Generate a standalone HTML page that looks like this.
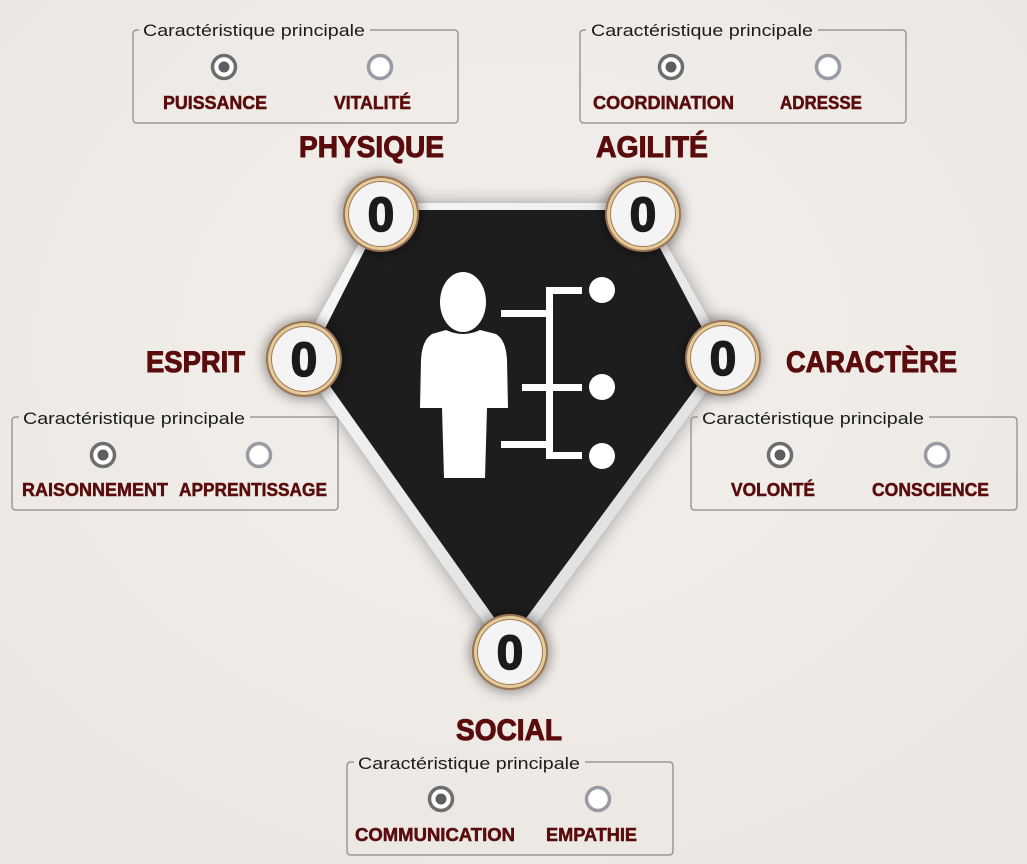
<!DOCTYPE html>
<html><head><meta charset="utf-8"><style>
html,body{margin:0;padding:0;width:1027px;height:864px;overflow:hidden;background:#ece8e4;}
svg{display:block}
text{font-family:"Liberation Sans",sans-serif}
.lg{font-size:17px;fill:#1c1c1c}
.lb{font-size:18px;font-weight:bold;fill:#5a0c0c;stroke:#5a0c0c;stroke-width:0.5}
.tt{font-size:30px;font-weight:bold;fill:#5a0c0c;stroke:#5a0c0c;stroke-width:1}
.num{font-size:48px;font-weight:bold;fill:#1b1b1b;stroke:#1b1b1b;stroke-width:1.5}
</style></head><body>
<svg width="1027" height="864" viewBox="0 0 1027 864">
<defs>
<radialGradient id="bg" cx="50%" cy="40%" r="70%"><stop offset="0" stop-color="#f3f0ed"/><stop offset="1" stop-color="#ebe6e1"/></radialGradient>
<filter id="sh" x="-30%" y="-30%" width="160%" height="160%"><feGaussianBlur stdDeviation="9"/></filter>
<filter id="sh2" x="-50%" y="-50%" width="200%" height="200%"><feGaussianBlur stdDeviation="6"/></filter>
<linearGradient id="wb" x1="0" y1="0" x2="1" y2="1"><stop offset="0" stop-color="#fafafa"/><stop offset="1" stop-color="#d8d8d8"/></linearGradient>
</defs>
<rect width="1027" height="864" fill="url(#bg)"/>

<polygon points="381,203 643,203 731,358 510,660 296,358" fill="#000" opacity="0.35" filter="url(#sh)"/>
<polygon points="381,203 643,203 731,358 510,660 296,358" fill="url(#wb)"/>
<polygon points="385,210 640,210 718,358 510,640 310,358" fill="#1d1d1d"/>

<g fill="#fff">
<ellipse cx="463" cy="302" rx="23" ry="30"/>
<path d="M446,330 Q463,338 480,330 L496,334 Q506,340 507,360 L508,408 L487,408 L485,478 L444,478 L442,408 L420,408 L421,360 Q422,340 432,334 Z"/>
<rect x="501" y="310" width="48" height="7"/>
<rect x="546" y="287" width="7" height="172"/>
<rect x="546" y="287" width="36" height="7"/>
<circle cx="602" cy="290" r="13"/>
<rect x="522" y="384" width="60" height="7"/>
<circle cx="602" cy="387" r="13"/>
<rect x="501" y="441" width="48" height="7"/>
<rect x="546" y="452" width="36" height="7"/>
<circle cx="602" cy="456" r="13"/>
</g>

<g>
<g transform="translate(381,214)"><circle r="40" fill="#000" opacity="0.4" filter="url(#sh2)"/><circle r="38" fill="#9b7456"/><circle r="36" fill="#e4cc98"/><circle r="33" fill="#a07a5c"/><circle r="32" fill="#f4f4f4"/><text class="num" text-anchor="middle" y="17">0</text></g>
<g transform="translate(643,214)"><circle r="40" fill="#000" opacity="0.4" filter="url(#sh2)"/><circle r="38" fill="#9b7456"/><circle r="36" fill="#e4cc98"/><circle r="33" fill="#a07a5c"/><circle r="32" fill="#f4f4f4"/><text class="num" text-anchor="middle" y="17">0</text></g>
<g transform="translate(304,359)"><circle r="40" fill="#000" opacity="0.4" filter="url(#sh2)"/><circle r="38" fill="#9b7456"/><circle r="36" fill="#e4cc98"/><circle r="33" fill="#a07a5c"/><circle r="32" fill="#f4f4f4"/><text class="num" text-anchor="middle" y="17">0</text></g>
<g transform="translate(723,358)"><circle r="40" fill="#000" opacity="0.4" filter="url(#sh2)"/><circle r="38" fill="#9b7456"/><circle r="36" fill="#e4cc98"/><circle r="33" fill="#a07a5c"/><circle r="32" fill="#f4f4f4"/><text class="num" text-anchor="middle" y="17">0</text></g>
<g transform="translate(510,652)"><circle r="40" fill="#000" opacity="0.4" filter="url(#sh2)"/><circle r="38" fill="#9b7456"/><circle r="36" fill="#e4cc98"/><circle r="33" fill="#a07a5c"/><circle r="32" fill="#f4f4f4"/><text class="num" text-anchor="middle" y="17">0</text></g>
</g>

<text class="tt" x="299" y="157" textLength="145" lengthAdjust="spacingAndGlyphs">PHYSIQUE</text>
<text class="tt" x="596" y="157" textLength="112" lengthAdjust="spacingAndGlyphs">AGILITÉ</text>
<text class="tt" x="146" y="372" textLength="99" lengthAdjust="spacingAndGlyphs">ESPRIT</text>
<text class="tt" x="786" y="372" textLength="171" lengthAdjust="spacingAndGlyphs">CARACTÈRE</text>
<text class="tt" x="456" y="740" textLength="106" lengthAdjust="spacingAndGlyphs">SOCIAL</text>

<g fill="none" stroke="#9a9a9a" stroke-width="1.5">
<path d="M139,30 L137,30 Q133,30 133,34 L133,119 Q133,123 137,123 L454,123 Q458,123 458,119 L458,34 Q458,30 454,30 L370,30"/>
<path d="M586,30 L584,30 Q580,30 580,34 L580,119 Q580,123 584,123 L902,123 Q906,123 906,119 L906,34 Q906,30 902,30 L818,30"/>
<path d="M19,417 L16,417 Q12,417 12,421 L12,506 Q12,510 16,510 L334,510 Q338,510 338,506 L338,421 Q338,417 334,417 L250,417"/>
<path d="M698,417 L695,417 Q691,417 691,421 L691,506 Q691,510 695,510 L1013,510 Q1017,510 1017,506 L1017,421 Q1017,417 1013,417 L929,417"/>
<path d="M354,762 L351,762 Q347,762 347,766 L347,851 Q347,855 351,855 L669,855 Q673,855 673,851 L673,766 Q673,762 669,762 L585,762"/>
</g>
<text class="lg" x="143" y="36" textLength="222" lengthAdjust="spacingAndGlyphs">Caractéristique principale</text>
<text class="lg" x="591" y="36" textLength="222" lengthAdjust="spacingAndGlyphs">Caractéristique principale</text>
<text class="lg" x="23" y="424" textLength="222" lengthAdjust="spacingAndGlyphs">Caractéristique principale</text>
<text class="lg" x="702" y="424" textLength="222" lengthAdjust="spacingAndGlyphs">Caractéristique principale</text>
<text class="lg" x="358" y="769" textLength="222" lengthAdjust="spacingAndGlyphs">Caractéristique principale</text>

<g>
<g transform="translate(224,67)"><circle r="11.5" fill="#fff" stroke="#6e6e6e" stroke-width="3.5"/><circle r="5.5" fill="#5e5e5e"/></g>
<g transform="translate(380,67)"><circle r="11.5" fill="#fff" stroke="#9a9aa4" stroke-width="3.5"/></g>
<g transform="translate(671,67)"><circle r="11.5" fill="#fff" stroke="#6e6e6e" stroke-width="3.5"/><circle r="5.5" fill="#5e5e5e"/></g>
<g transform="translate(828,67)"><circle r="11.5" fill="#fff" stroke="#9a9aa4" stroke-width="3.5"/></g>
<g transform="translate(103,455)"><circle r="11.5" fill="#fff" stroke="#6e6e6e" stroke-width="3.5"/><circle r="5.5" fill="#5e5e5e"/></g>
<g transform="translate(259,455)"><circle r="11.5" fill="#fff" stroke="#9a9aa4" stroke-width="3.5"/></g>
<g transform="translate(780,455)"><circle r="11.5" fill="#fff" stroke="#6e6e6e" stroke-width="3.5"/><circle r="5.5" fill="#5e5e5e"/></g>
<g transform="translate(937,455)"><circle r="11.5" fill="#fff" stroke="#9a9aa4" stroke-width="3.5"/></g>
<g transform="translate(441,799)"><circle r="11.5" fill="#fff" stroke="#6e6e6e" stroke-width="3.5"/><circle r="5.5" fill="#5e5e5e"/></g>
<g transform="translate(598,799)"><circle r="11.5" fill="#fff" stroke="#9a9aa4" stroke-width="3.5"/></g>
</g>

<text class="lb" x="163" y="109" textLength="104" lengthAdjust="spacingAndGlyphs">PUISSANCE</text>
<text class="lb" x="334" y="109" textLength="77" lengthAdjust="spacingAndGlyphs">VITALITÉ</text>
<text class="lb" x="593" y="109" textLength="141" lengthAdjust="spacingAndGlyphs">COORDINATION</text>
<text class="lb" x="780" y="109" textLength="82" lengthAdjust="spacingAndGlyphs">ADRESSE</text>
<text class="lb" x="22" y="496" textLength="146" lengthAdjust="spacingAndGlyphs">RAISONNEMENT</text>
<text class="lb" x="179" y="496" textLength="148" lengthAdjust="spacingAndGlyphs">APPRENTISSAGE</text>
<text class="lb" x="731" y="496" textLength="84" lengthAdjust="spacingAndGlyphs">VOLONTÉ</text>
<text class="lb" x="872" y="496" textLength="117" lengthAdjust="spacingAndGlyphs">CONSCIENCE</text>
<text class="lb" x="355" y="841" textLength="160" lengthAdjust="spacingAndGlyphs">COMMUNICATION</text>
<text class="lb" x="546" y="841" textLength="91" lengthAdjust="spacingAndGlyphs">EMPATHIE</text>
</svg>
</body></html>
